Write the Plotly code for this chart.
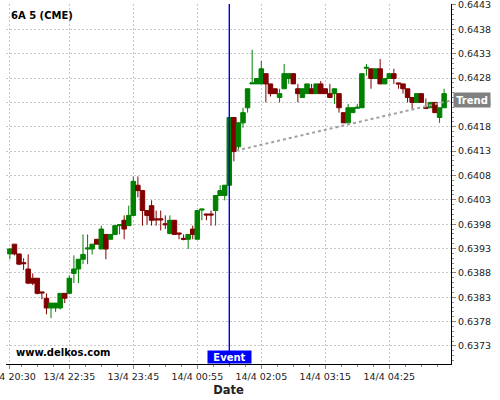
import plotly.graph_objects as go

# ---------------- data ----------------
tick_idx = [0, 13, 27, 41, 55, 69, 83]
tick_labels = ["13/4 20:30", "13/4 22:35", "13/4 23:45", "14/4 00:55",
               "14/4 02:05", "14/4 03:15", "14/4 04:25"]

opens = [0.63919, 0.63939, 0.63919, 0.63901, 0.63888, 0.63869, 0.63869, 0.63841, 0.63828, 0.63808,
         0.63808, 0.63808, 0.63838, 0.63838, 0.63879, 0.63888, 0.63908, 0.63929, 0.63929, 0.63949,
         0.63929, 0.63959, 0.63949, 0.63959, 0.63977, 0.63988, 0.63977, 0.63998, 0.64060, 0.64049,
         0.64008, 0.64018, 0.63991, 0.63991, 0.63981, 0.63961, 0.63988, 0.63962, 0.63951, 0.63949,
         0.63970, 0.63949, 0.64009, 0.64001, 0.64001, 0.64008, 0.64039, 0.64039, 0.64060, 0.64199,
         0.64139, 0.64188, 0.64219, 0.64268, 0.64268, 0.64268, 0.64289, 0.64268, 0.64258, 0.64240,
         0.64258, 0.64279, 0.64289, 0.64258, 0.64240, 0.64248, 0.64258, 0.64248, 0.64268, 0.64258,
         0.64248, 0.64248, 0.64248, 0.64209, 0.64188, 0.64209, 0.64218, 0.64219, 0.64300, 0.64299,
         0.64279, 0.64299, 0.64268, 0.64279, 0.64289, 0.64270, 0.64268, 0.64258, 0.64240, 0.64230,
         0.64248, 0.64220, 0.64219, 0.64230, 0.64199, 0.64219]
highs = [0.63931, 0.63939, 0.63919, 0.63910, 0.63918, 0.63879, 0.63869, 0.63841, 0.63838, 0.63818,
         0.63818, 0.63838, 0.63838, 0.63875, 0.63916, 0.63908, 0.63959, 0.63959, 0.63939, 0.63949,
         0.63977, 0.63959, 0.63959, 0.63977, 0.63980, 0.63998, 0.64018, 0.64078, 0.64078, 0.64049,
         0.64008, 0.64029, 0.64008, 0.64008, 0.63998, 0.63998, 0.63988, 0.63962, 0.63959, 0.63959,
         0.63977, 0.64008, 0.64011, 0.64001, 0.64008, 0.64039, 0.64060, 0.64060, 0.64199, 0.64199,
         0.64190, 0.64219, 0.64258, 0.64338, 0.64279, 0.64315, 0.64289, 0.64268, 0.64258, 0.64258,
         0.64309, 0.64289, 0.64289, 0.64268, 0.64258, 0.64268, 0.64268, 0.64268, 0.64274, 0.64258,
         0.64268, 0.64258, 0.64248, 0.64209, 0.64227, 0.64219, 0.64227, 0.64289, 0.64309, 0.64299,
         0.64299, 0.64319, 0.64279, 0.64289, 0.64299, 0.64270, 0.64268, 0.64258, 0.64240, 0.64248,
         0.64248, 0.64238, 0.64230, 0.64230, 0.64219, 0.64258]
lows = [0.63908, 0.63916, 0.63896, 0.63886, 0.63857, 0.63855, 0.63836, 0.63826, 0.63795, 0.63787,
        0.63800, 0.63805, 0.63818, 0.63836, 0.63859, 0.63859, 0.63898, 0.63898, 0.63918, 0.63939,
        0.63929, 0.63908, 0.63949, 0.63959, 0.63959, 0.63949, 0.63977, 0.63998, 0.64035, 0.63977,
        0.63979, 0.63977, 0.63977, 0.63967, 0.63970, 0.63959, 0.63959, 0.63949, 0.63947, 0.63929,
        0.63949, 0.63949, 0.63988, 0.63988, 0.63977, 0.63977, 0.64039, 0.64029, 0.64060, 0.64109,
        0.64131, 0.64178, 0.64209, 0.64268, 0.64268, 0.64268, 0.64230, 0.64242, 0.64248, 0.64230,
        0.64258, 0.64268, 0.64268, 0.64230, 0.64240, 0.64248, 0.64248, 0.64248, 0.64248, 0.64248,
        0.64240, 0.64227, 0.64209, 0.64188, 0.64188, 0.64209, 0.64218, 0.64219, 0.64285, 0.64258,
        0.64279, 0.64268, 0.64268, 0.64279, 0.64268, 0.64258, 0.64248, 0.64230, 0.64217, 0.64230,
        0.64230, 0.64217, 0.64219, 0.64209, 0.64188, 0.64219]
closes = [0.63929, 0.63919, 0.63898, 0.63899, 0.63859, 0.63859, 0.63838, 0.63839, 0.63808, 0.63818,
          0.63818, 0.63838, 0.63828, 0.63869, 0.63888, 0.63908, 0.63918, 0.63931, 0.63939, 0.63939,
          0.63970, 0.63929, 0.63959, 0.63977, 0.63979, 0.63970, 0.63998, 0.64068, 0.64049, 0.64008,
          0.63998, 0.63988, 0.63989, 0.63989, 0.63979, 0.63988, 0.63959, 0.63960, 0.63949, 0.63959,
          0.63959, 0.64008, 0.64011, 0.63999, 0.63999, 0.64039, 0.64049, 0.64060, 0.64199, 0.64129,
          0.64188, 0.64209, 0.64258, 0.64270, 0.64279, 0.64299, 0.64268, 0.64248, 0.64248, 0.64248,
          0.64289, 0.64289, 0.64268, 0.64248, 0.64258, 0.64268, 0.64248, 0.64268, 0.64248, 0.64248,
          0.64240, 0.64258, 0.64219, 0.64188, 0.64219, 0.64219, 0.64220, 0.64289, 0.64302, 0.64279,
          0.64299, 0.64268, 0.64279, 0.64289, 0.64279, 0.64268, 0.64258, 0.64240, 0.64230, 0.64248,
          0.64230, 0.64218, 0.64230, 0.64209, 0.64219, 0.64248]
idx = list(range(len(opens)))

event_idx = 48
trend_idx = [49.5, 96.5]
trend_vals = [0.64131, 0.64234]

FONT = "DejaVu Sans"
GRID = "#c8c8c8"

fig = go.Figure()
fig.add_trace(go.Candlestick(
    x=idx, open=opens, high=highs, low=lows, close=closes,
    increasing=dict(line=dict(color="#008000", width=1), fillcolor="#008000"),
    decreasing=dict(line=dict(color="#800000", width=1), fillcolor="#800000"),
    whiskerwidth=0, showlegend=False, hoverinfo="skip"))
fig.add_trace(go.Scatter(
    x=trend_idx, y=trend_vals, mode="lines",
    line=dict(color="#a0a0a0", width=2, dash="dot"),
    showlegend=False, hoverinfo="skip"))

fig.add_shape(type="line", xref="x", yref="paper", x0=event_idx, x1=event_idx,
              y0=0, y1=1, line=dict(color="#0000ee", width=1.4))

fig.add_annotation(text="<b>Event</b>", xref="x", yref="paper", x=event_idx, y=0,
                   xanchor="center", yanchor="bottom", showarrow=False,
                   bgcolor="#0000ff", font=dict(family=FONT, size=10, color="white"),
                   width=43, height=12, borderpad=0)
fig.add_annotation(text="<b>Trend</b>", xref="paper", yref="y", x=1, y=trend_vals[-1],
                   xanchor="left", yanchor="middle", xshift=2, showarrow=False,
                   bgcolor="#808080", font=dict(family=FONT, size=10, color="white"),
                   width=36, height=14, borderpad=0)
fig.add_annotation(text="<b>6A 5 (CME)</b>", xref="paper", yref="paper", x=0.007, y=0.969,
                   xanchor="left", yanchor="middle", showarrow=False,
                   font=dict(family=FONT, size=10, color="black"))
fig.add_annotation(text="<b>www.delkos.com</b>", xref="paper", yref="paper", x=0.018, y=0.031,
                   xanchor="left", yanchor="middle", showarrow=False,
                   font=dict(family=FONT, size=10, color="black"))

fig.update_layout(
    width=500, height=400,
    margin=dict(l=6, r=49, t=4, b=36, pad=0, autoexpand=False),
    paper_bgcolor="white", plot_bgcolor="white",
    boxgap=0.02, boxgroupgap=0,
    font=dict(family=FONT, size=9.5, color="#222"),
    xaxis=dict(
        range=[-0.85, 96.5], rangeslider=dict(visible=False),
        automargin=False,
        tickmode="array", tickvals=tick_idx, ticktext=tick_labels,
        ticklabeloverflow="allow",
        ticks="outside", ticklen=4, tickcolor="#888",
        showline=True, linecolor="black", linewidth=1,
        showgrid=True, gridcolor=GRID, griddash="2px,2px", gridwidth=1,
        zeroline=False,
        minor=dict(ticks="outside", ticklen=2, tickcolor="#888", dtick=3.5, tick0=13, showgrid=False),
        title=dict(text="<b>Date</b>", font=dict(family=FONT, size=11.5, color="#222"), standoff=4),
    ),
    yaxis=dict(
        side="right", range=[0.63693, 0.64432],
        automargin=False,
        tickmode="linear", tick0=0.6373, dtick=0.0005, tickformat=".4f",
        ticklabeloverflow="allow",
        ticks="outside", ticklen=4, tickcolor="#888",
        showline=True, linecolor="black", linewidth=1,
        showgrid=True, gridcolor=GRID, griddash="2px,2px", gridwidth=1,
        zeroline=False,
        minor=dict(ticks="outside", ticklen=2, tickcolor="#888", dtick=0.0001, tick0=0.6373, showgrid=False),
    ),
)

fig.write_html("out.html", config={"displayModeBar": False},
               post_script="document.body.style.margin='0';document.body.style.overflow='hidden';")
